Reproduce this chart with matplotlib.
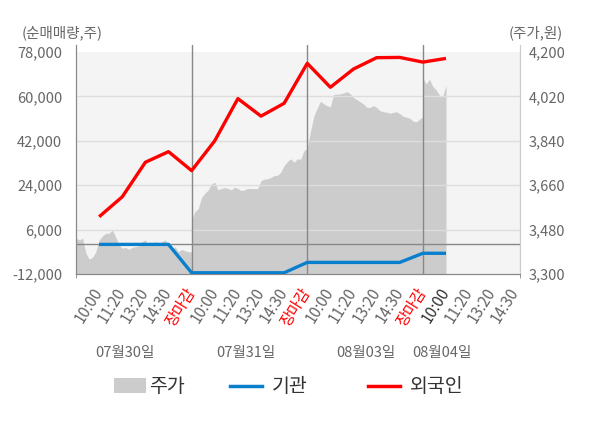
import numpy as np
import matplotlib
matplotlib.use("Agg")
import matplotlib.pyplot as plt
import matplotlib.transforms as mtransforms
from matplotlib.patches import Rectangle
from matplotlib.lines import Line2D

plt.rcParams["font.family"] = ["Noto Sans CJK KR", "DejaVu Sans"]

# x axis: one slot per tick, 5 slots per session
tick_labels = ["10:00", "11:20", "13:20", "14:30", "장마감"] * 3 + ["10:00", "11:20", "13:20", "14:30"]
day_labels = ["07월30일", "07월31일", "08월03일", "08월04일"]

# net buying (shares), one point per slot starting at the first 10:00
foreign = [11200, 19300, 33300, 37600, 29900, 42000, 59100, 52000,
           57200, 73400, 63700, 71100, 75700, 75800, 73900, 75400]
institution = [0, 0, 0, 0, -11500, -11500, -11500, -11500,
               -11500, -7300, -7300, -7300, -7300, -7300, -3600, -3600]

# share price (won), sampled evenly through each session
price_d1 = [3445, 3438, 3445, 3384, 3360, 3368, 3390, 3438, 3454, 3465, 3465, 3478,
            3451, 3418, 3404, 3408, 3400, 3408, 3411, 3414, 3431, 3438, 3414, 3424,
            3431, 3424, 3431, 3438, 3418, 3397, 3411, 3390, 3400, 3394, 3390, 3390]
price_d2 = [3520, 3553, 3565, 3610, 3628, 3640, 3665, 3672, 3641, 3647, 3650, 3647,
            3641, 3652, 3647, 3638, 3641, 3647, 3646, 3646, 3647, 3678, 3685, 3686,
            3692, 3699, 3700, 3713, 3740, 3756, 3767, 3753, 3767, 3765, 3800, 3810]
price_d3 = [3810, 3880, 3940, 3972, 4000, 3990, 3982, 3978, 4028, 4029, 4030, 4034,
            4039, 4031, 4015, 4007, 3998, 3990, 3976, 3975, 3983, 3975, 3962, 3958,
            3956, 3952, 3955, 3958, 3950, 3940, 3936, 3932, 3920, 3917, 3927, 3938]
price_d4 = [4093, 4070, 4090, 4060, 4047, 4025, 4019, 4066]

SLOTS_PER_DAY = 5
SAMPLES_PER_DAY = 36

GRAY_TXT = "#666666"
AREA = "#cccccc"
BLUE = "#0a7fcc"
RED = "#ff0000"

fig = plt.figure(figsize=(6.0, 4.28), dpi=100)
ax = fig.add_axes([76 / 600, 1 - 274 / 428, 444 / 600, 229 / 428])
ax2 = ax.twinx()

# price axis (right side), drawn underneath
p_lo, p_hi = 3300, 4200
n_lo, n_hi = -12000, 78000
ext = 7 / 222
ax.set_ylim(p_lo, p_hi + (p_hi - p_lo) * ext)
ax2.set_ylim(n_lo, n_hi + (n_hi - n_lo) * ext)
xmax = 19.2
ax.set_xlim(0, xmax)

ax.axhspan(p_lo, p_hi, color="#f4f4f4", lw=0, zorder=0)

px, py = [], []
for d, prices in enumerate([price_d1, price_d2, price_d3, price_d4]):
    step = SLOTS_PER_DAY / (SAMPLES_PER_DAY - 1)
    px.extend(d * SLOTS_PER_DAY + np.arange(len(prices)) * step)
    py.extend(prices)
ax.fill_between(px, p_lo, py, color=AREA, lw=0, zorder=1)

# grid, zero line and session separators on the top axes
for v in [6000, 24000, 42000, 60000]:
    ax2.axhline(v, color="#dddddd", lw=1, zorder=1)
ax2.axhline(0, color="#888888", lw=1, zorder=2)
for d in range(1, 4):
    ax2.axvline(d * SLOTS_PER_DAY, color="#888888", lw=1, zorder=2)

slots = np.arange(1, len(foreign) + 1)
ax2.plot(slots, institution, color=BLUE, lw=2.4, zorder=4, solid_capstyle="butt")
ax2.plot(slots, foreign, color=RED, lw=2.4, zorder=5, solid_capstyle="butt")

# y ticks
ax2.set_yticks(np.arange(n_lo, n_hi + 1, 18000))
ax2.set_yticklabels([f"{v:,}" for v in range(n_lo, n_hi + 1, 18000)])
ax.set_yticks(np.arange(p_lo, p_hi + 1, 180))
ax.set_yticklabels([f"{v:,}" for v in range(p_lo, p_hi + 1, 180)])
ax2.yaxis.tick_left()
ax.yaxis.tick_right()
ax2.tick_params(axis="y", length=0, pad=10, labelsize=10.5, labelcolor=GRAY_TXT)
ax.tick_params(axis="y", length=0, pad=6, labelsize=10.5, labelcolor=GRAY_TXT)

# x ticks
ax.set_xticks(np.arange(1, len(tick_labels) + 1))
ax.set_xticklabels(tick_labels, rotation=58, ha="right", va="center",
                   rotation_mode="anchor")
ax.tick_params(axis="x", length=0, pad=11, labelsize=11)
for i, lab in enumerate(ax.get_xticklabels()):
    if tick_labels[i] == "장마감":
        lab.set_color(RED)
    elif i == 15:
        lab.set_color("#333333")
    else:
        lab.set_color(GRAY_TXT)
ax.set_xticks([0, 5, 10, 15, xmax], minor=True)
ax.tick_params(axis="x", which="minor", length=3, color="#888888")
ax2.set_xlim(0, xmax)

for a in (ax, ax2):
    a.spines["top"].set_visible(False)
    a.spines["left"].set_color("#888888")
    a.spines["bottom"].set_color("#888888")
    a.spines["right"].set_color("#cccccc")
ax2.patch.set_visible(False)

# session dates
trans = mtransforms.blended_transform_factory(ax.transData, ax.transAxes)
for xpos, lab in zip([2.13, 7.33, 12.53, 15.82], day_labels):
    ax.text(xpos, -79 / 229, lab, transform=trans, ha="center", va="center",
            fontsize=10.5, color=GRAY_TXT)

fig.text(22 / 600, 1 - 33 / 428, "(순매매량,주)", ha="left", va="center",
         fontsize=10.5, color=GRAY_TXT)
fig.text(563 / 600, 1 - 33 / 428, "(주가,원)", ha="right", va="center",
         fontsize=10.5, color=GRAY_TXT)

# legend
ly = 1 - 386 / 428
fig.patches.append(Rectangle((114 / 600, 1 - 393 / 428), 32 / 600, 15 / 428,
                             transform=fig.transFigure, color=AREA, lw=0))
fig.lines.append(Line2D([230 / 600, 262 / 600], [ly, ly], transform=fig.transFigure,
                        color=BLUE, lw=2.5))
fig.lines.append(Line2D([368 / 600, 400 / 600], [ly, ly], transform=fig.transFigure,
                        color=RED, lw=2.5))
for xpos, lab in [(149, "주가"), (272, "기관"), (410, "외국인")]:
    fig.text(xpos / 600, ly, lab, ha="left", va="center", fontsize=14, color="#333333")

fig.savefig("out.png", dpi=100, facecolor="white")
